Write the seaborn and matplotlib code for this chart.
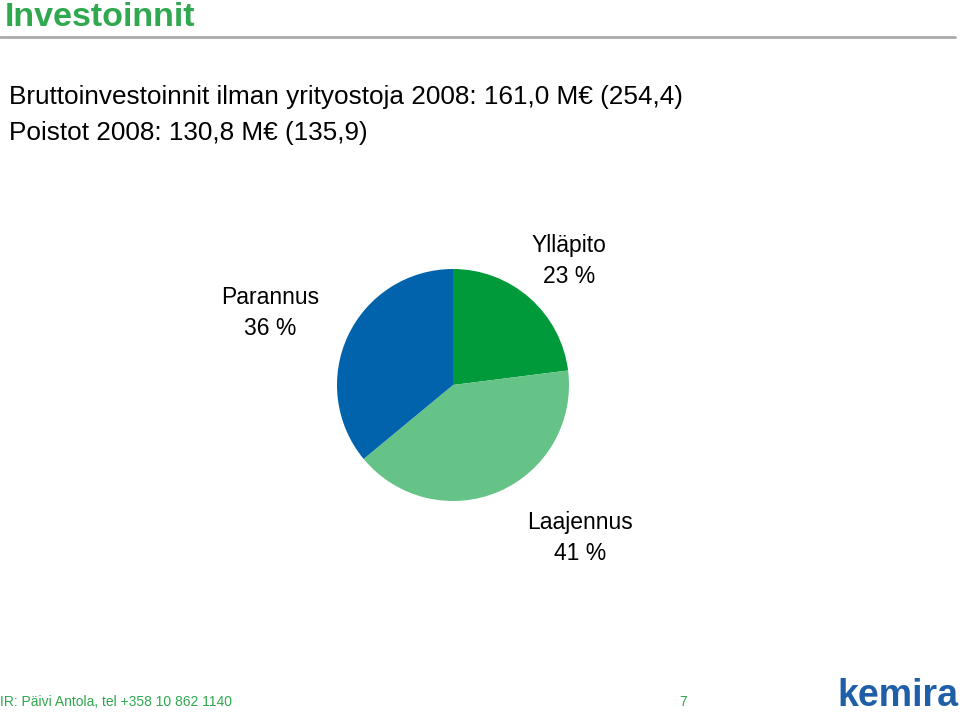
import matplotlib
matplotlib.use("Agg")
import matplotlib.pyplot as plt
import seaborn as sns

sns.set_theme(style="white")
plt.rcParams['font.family'] = ['Liberation Sans', 'DejaVu Sans']

categories = ["Ylläpito", "Laajennus", "Parannus"]
values = [23, 41, 36]
colors = ["#009A3A", "#66C387", "#0063AB"]

fig = plt.figure(figsize=(9.6, 7.13), dpi=100)
fig.patch.set_facecolor("white")

W, H = 960, 713
cx, cy, r = 453, 385, 116
ax = fig.add_axes([(cx - r) / W, (H - cy - r) / H, 2 * r / W, 2 * r / H])
ax.pie(values, colors=colors, startangle=90, counterclock=False,
       radius=1.0, wedgeprops=dict(linewidth=0))
ax.set_xlim(-1, 1)
ax.set_ylim(-1, 1)
ax.set_aspect("equal")
ax.axis("off")

def fy(y):
    return 1 - y / H

fig.text(5 / W, fy(17), "Investoinnit", color="#2FA84F", fontsize=24.5,
         fontweight="bold", va="center", ha="left")
fig.add_artist(plt.Line2D([0, 955 / W], [fy(37), fy(37)], color="#AAAAAA", lw=2))

fig.text(9 / W, fy(97), "Bruttoinvestoinnit ilman yrityostoja 2008: 161,0 M€ (254,4)",
         fontsize=18.8, va="center", ha="left", color="black")
fig.text(9 / W, fy(133), "Poistot 2008: 130,8 M€ (135,9)",
         fontsize=18.8, va="center", ha="left", color="black")

label_pos = {"Ylläpito": (569, 261), "Laajennus": (580, 538), "Parannus": (270, 313)}
for cat, v in zip(categories, values):
    x, y = label_pos[cat]
    fig.text(x / W, fy(y), f"{cat}\n{v} %", fontsize=16.5, ha="center", va="center",
             linespacing=1.42, color="black")

fig.text(0 / W, fy(702), "IR: Päivi Antola, tel +358 10 862 1140", fontsize=10,
         color="#2FA84F", va="center", ha="left")
fig.text(683 / W, fy(702), "7", fontsize=10, color="#2FA84F", va="center", ha="center")
fig.text(958 / W, fy(696), "kemira", fontsize=27, fontweight="bold", color="#1F5FA8",
         va="center", ha="right")

fig.savefig("out.png", dpi=100, facecolor="white")
